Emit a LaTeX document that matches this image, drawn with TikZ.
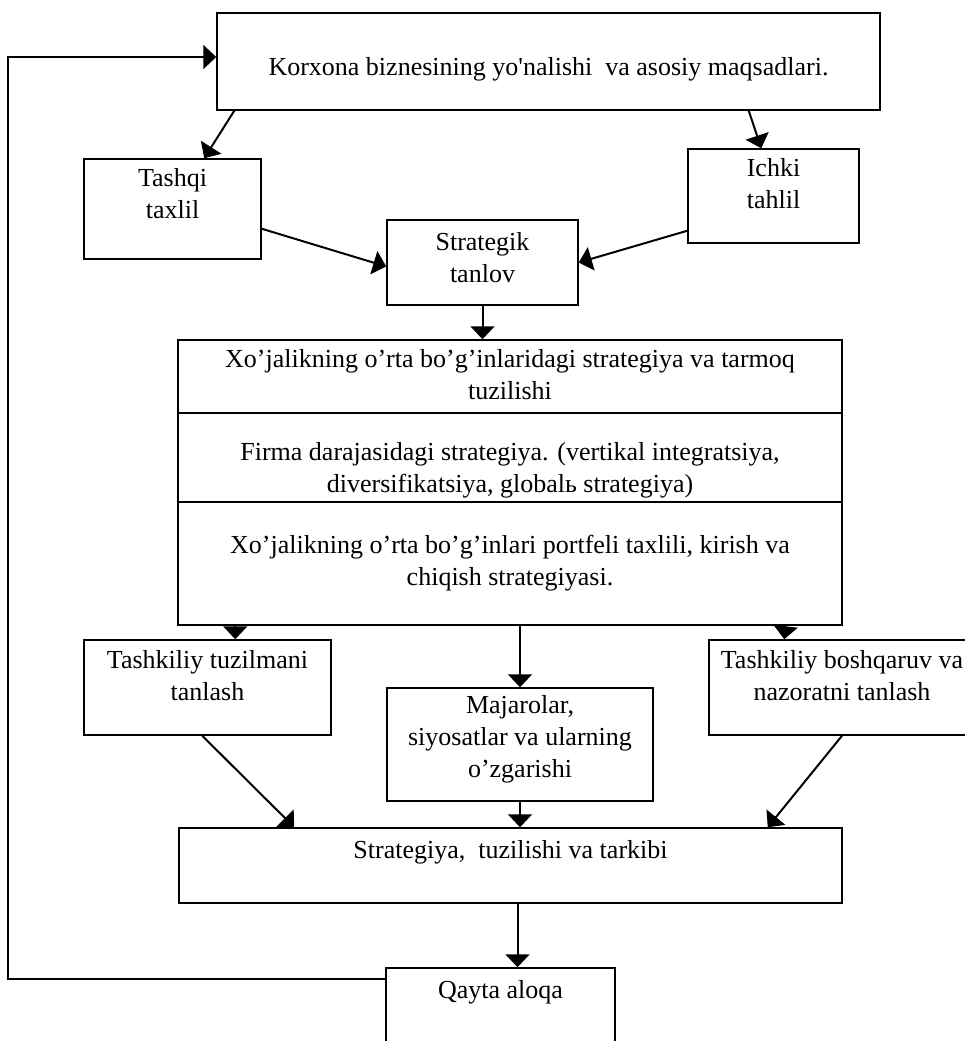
\documentclass[tikz,border=0pt]{standalone}
\usepackage{fontspec}
\setmainfont{Liberation Serif}
\usetikzlibrary{arrows.meta}
\newcommand{\sq}{\XeTeXglyph\XeTeXglyphindex "quotesingle"\relax}

\begin{document}
\begin{tikzpicture}[x=1pt,y=-1pt,>={Triangle[length=13pt,width=24pt]},
        font=\fontsize{26}{32}\selectfont,
        box/.style={draw,line width=1.5pt,inner sep=0pt},
        lbl/.style={anchor=north,align=center,inner sep=10pt},
        link/.style={->,line width=2pt}]
        \useasboundingbox (0,0) rectangle (964,1041);

        % Top of the scheme.
        \node[box,minimum width=663pt,minimum height=97pt,
            label={[lbl,inner sep=45pt]north:Korxona biznesining yo\sq nalishi\ \ va asosiy maqsadlari.}] (top) at (548.5,61.5) {};
        \node[box,minimum width=177pt,minimum height=100pt,
            label={[lbl]north:Tashqi\\taxlil}] (tashqi) at (172.5,209) {};
        \node[box,minimum width=171pt,minimum height=94pt,
            label={[lbl]north:Ichki\\tahlil}] (ichki) at (773.5,196) {};
        \node[box,minimum width=191pt,minimum height=85pt,
            label={[lbl,inner sep=13pt]north:Strategik\\tanlov}] (tanlov) at (482.5,262.5) {};

        % Strategy block.
        \node[box,minimum width=664pt,minimum height=73pt,
            label={[lbl]north:Xo’jalikning o’rta bo’g’inlaridagi strategiya va tarmoq\\tuzilishi}] (row1) at (510,376.5) {};
        \node[box,minimum width=664pt,minimum height=89pt,
            label={[lbl,inner sep=30pt]north:Firma darajasidagi strategiya. (vertikal integratsiya,\\diversifikatsiya, globalь strategiya)}] (row2) at (510,457.5) {};
        \node[box,minimum width=664pt,minimum height=123pt,
            label={[lbl,inner sep=34pt]north:Xo’jalikning o’rta bo’g’inlari portfeli taxlili, kirish va\\chiqish strategiyasi.}] (row3) at (510,563.5) {};

        % Choices.
        \node[box,minimum width=247pt,minimum height=95pt,
            label={[lbl,inner sep=11pt]north:Tashkiliy tuzilmani\\tanlash}] (tuzilma) at (207.5,687.5) {};
        \node[box,minimum width=266pt,minimum height=113pt,
            label={[lbl,inner sep=8pt]north:Majarolar,\\siyosatlar va ularning\\o’zgarishi}] (majaro) at (520,744.5) {};
        \node[box,minimum width=266pt,minimum height=95pt,
            label={[lbl,inner sep=11pt]north:Tashkiliy boshqaruv va\\nazoratni tanlash}] (boshqaruv) at (842,687.5) {};

        % Bottom.
        \node[box,minimum width=663pt,minimum height=75pt,
            label={[lbl,inner sep=13pt]north:Strategiya,\ \ tuzilishi va tarkibi}] (tarkib) at (510.5,865.5) {};
        \node[box,minimum width=229pt,minimum height=102pt,
            label={[lbl,inner sep=13pt]north:Qayta aloqa}] (qayta) at (500.5,1019) {};

        % Connections.
        \draw[link] ([xshift=18pt]top.south west) -- ([xshift=121pt]tashqi.north west);
        \draw[link] ([xshift=-132pt]top.south east) -- ([xshift=74pt]ichki.north west);
        \draw[link] ([yshift=31pt]tashqi.south east) -- ([yshift=-4pt]tanlov.west);
        \draw[link] ([yshift=13pt]ichki.south west) -- (tanlov.east);
        \draw[link] (tanlov.south) -- (tanlov.south |- row1.north);
        \draw[link] ([xshift=58pt]row3.south west) -- ([xshift=152pt]tuzilma.north west);
        \draw[link] ([xshift=10pt]row3.south) -- (majaro.north);
        \draw[link] ([xshift=-57pt]row3.south east) -- ([xshift=76pt]boshqaruv.north west);
        \draw[link] ([xshift=119pt]tuzilma.south west) -- ([xshift=116pt]tarkib.north west);
        \draw[link] (majaro.south) -- (majaro.south |- tarkib.north);
        \draw[link] (boshqaruv.south) -- ([xshift=-75pt]tarkib.north east);
        \draw[link] ([xshift=7pt]tarkib.south) -- ([xshift=17pt]qayta.north);

        % Feedback loop.
        \draw[link] ([yshift=-12pt]qayta.north west) -| ([xshift=-208pt,yshift=4.5pt]top.west) -- ([yshift=4.5pt]top.west);
\end{tikzpicture}
\end{document}
